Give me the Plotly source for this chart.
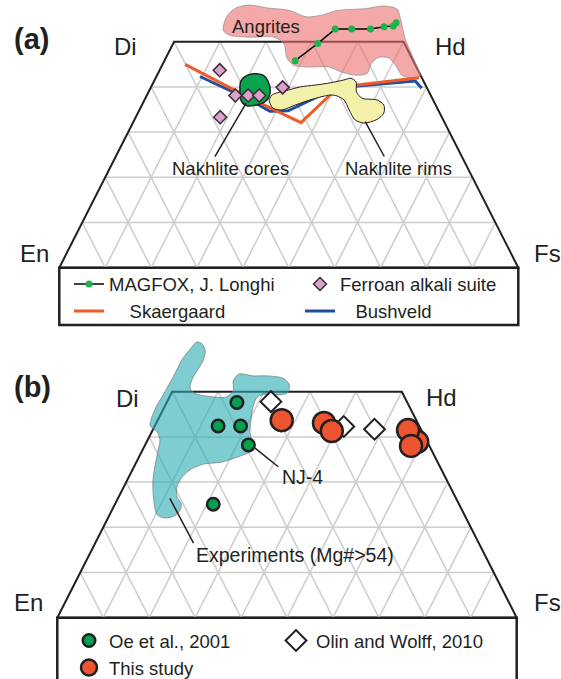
import plotly.graph_objects as go

# ---------------- data (pyroxene compositions, mol%: Wo and Fs; En = 100 - Wo - Fs) -------------
# Panel (a)
MAGFOX_WO = [45.8, 49.6, 52.8, 52.8, 52.8, 53.3, 53.5, 54.2]
MAGFOX_FS = [28.5, 31.5, 33.7, 37.3, 41.4, 44.1, 46.0, 46.3]
FERROAN_WO = [43.7, 38.1, 38.1, 38.1, 33.3, 39.9]
FERROAN_FS = [13.1, 19.3, 22.1, 24.5, 18.4, 28.7]
SKAER_WO = [45.0, 37.5, 32.1, 38.6, 40.4, 42.0]
SKAER_FS = [4.9, 22.8, 36.6, 40.1, 44.7, 57.4]
BUSH_WO = [42.3, 37.1, 34.6, 34.7, 38.6, 40.2, 41.3, 39.7]
BUSH_FS = [9.5, 23.0, 28.6, 32.5, 38.6, 44.8, 56.9, 59.1]
ANGRITE_WO = [52.6, 55.7, 57.5, 58.1, 57.5, 56.9, 55.5, 55.9, 56.9, 57.3, 57.9, 57.2, 54.8, 50.8,
              46.4, 42.4, 42.0, 42.6, 44.6, 46.4, 46.5, 45.1, 43.0, 42.6, 43.4, 44.4, 44.4, 44.8,
              46.4, 49.5, 51.0, 51.0, 51.5]
ANGRITE_FS = [9.4, 8.7, 9.8, 12.5, 16.3, 21.8, 26.0, 29.3, 32.1, 37.9, 41.8, 45.0, 47.0, 49.9,
              53.9, 57.4, 55.6, 53.3, 51.1, 48.6, 46.2, 45.4, 45.6, 43.3, 39.5, 36.6, 31.8, 28.7,
              26.4, 24.2, 21.3, 16.0, 11.2]
CORES_WO = [42.3, 42.9, 42.6, 41.3, 39.1, 37.1, 36.2, 35.8, 36.9, 39.3, 41.3]
CORES_FS = [19.3, 20.8, 23.1, 24.8, 26.4, 26.7, 25.6, 23.0, 21.2, 19.7, 18.9]
RIMS_WO = [36.9, 38.2, 39.1, 40.0, 40.4, 40.9, 41.5, 41.9, 41.1, 38.9, 37.5, 37.1, 36.0, 34.2,
           32.8, 32.0, 32.7, 34.9, 37.1, 38.0, 38.2, 37.3, 36.0, 34.9, 35.3]
RIMS_FS = [27.3, 27.2, 29.6, 32.5, 35.5, 38.6, 41.1, 42.6, 44.1, 45.3, 47.2, 50.7, 52.7, 53.6,
           52.8, 50.4, 48.1, 45.7, 43.5, 41.5, 39.9, 36.6, 33.4, 31.1, 28.9]
CORES_LEADER_WO = [36.4, 24.6]
CORES_LEADER_FS = [22.5, 21.6]
RIMS_LEADER_WO = [32.3, 24.6]
RIMS_LEADER_FS = [50.5, 58.5]

# Panel (b)
OE_WO = [47.6, 42.4, 42.4, 38.2, 25.1]
OE_FS = [15.3, 13.8, 18.7, 22.5, 21.4]
OLIN_WO = [47.8, 42.3, 41.7]
OLIN_FS = [22.6, 41.2, 48.2]
STUDY_WO = [43.7, 43.1, 41.3, 38.9, 41.5, 38.0]
STUDY_FS = [27.0, 36.5, 39.1, 58.9, 55.6, 58.0]
EXPER_WO = [61.0, 60.6, 59.0, 56.8, 54.6, 52.6, 50.8, 49.7, 49.0, 48.8, 50.2, 52.4, 53.9, 53.5,
            53.5, 53.0, 51.7, 49.9, 49.3, 49.5, 48.8, 46.6, 43.7, 40.9, 38.0, 36.7, 35.6, 34.4,
            34.0, 32.9, 31.1, 28.9, 26.7, 25.2, 23.4, 22.3, 22.1, 22.9, 26.0, 30.0, 33.8, 37.1,
            39.3, 41.1, 42.4, 43.7, 46.6, 49.3, 51.3, 53.7, 57.0, 59.4]
EXPER_FS = [-0.1, 1.2, 2.7, 3.3, 3.1, 3.0, 3.5, 4.9, 8.3, 12.3, 13.2, 12.1, 12.6, 15.9, 19.1,
            22.6, 24.6, 25.3, 24.1, 20.9, 19.1, 19.3, 20.3, 21.5, 23.6, 23.6, 21.6, 18.4, 14.9,
            12.7, 11.6, 11.6, 12.7, 14.4, 14.8, 13.8, 12.0, 10.2, 8.0, 5.8, 4.4, 3.4, 2.7, 1.2,
            -1.0, -1.5, -1.8, -1.6, -1.5, -1.4, -1.4, -0.8]
NJ4_LEADER_WO = [37.5, 33.4]
NJ4_LEADER_FS = [24.3, 31.4]
EXP_LEADER_WO = [26.4, 16.5]
EXP_LEADER_FS = [11.3, 21.4]

# Quadrilateral frame and grid
EDGE_WO = [0, 50, 50, 0]
EDGE_FS = [0, 0, 50, 100]
WO_GRID = [10, 20, 30, 40]
FS_GRID = [10, 20, 30, 40, 50, 60, 70, 80, 90]
EN_GRID = [10, 20, 30, 40, 50, 60, 70, 80, 90]

FONT = "Liberation Sans, Arial, Helvetica, sans-serif"
INK = "#231f20"
NB = "\u00a0"


def tern(wo, fs):
    x = [f / 100 + w / 200 for w, f in zip(wo, fs)]
    y = [w / 100 for w in wo]
    return x, y


def closed(a):
    return list(a) + [a[0]]


fig = go.Figure()


def add_frame(xa, ya):
    gx, gy = [], []
    for w in WO_GRID:
        x, y = tern([w, w], [0, 100 - w])
        gx += x + [None]; gy += y + [None]
    for f in FS_GRID:
        wmax = min(50, 100 - f)
        x, y = tern([0, wmax], [f, f])
        gx += x + [None]; gy += y + [None]
    for e in EN_GRID:
        wmax = min(50, 100 - e)
        x, y = tern([0, wmax], [100 - e, 100 - e - wmax])
        gx += x + [None]; gy += y + [None]
    fig.add_trace(go.Scatter(x=gx, y=gy, mode="lines", line=dict(color="#cdcdcd", width=1.5),
                             xaxis=xa, yaxis=ya, showlegend=False, hoverinfo="skip"))
    ox, oy = tern(closed(EDGE_WO), closed(EDGE_FS))
    fig.add_trace(go.Scatter(x=ox, y=oy, mode="lines", line=dict(color=INK, width=2),
                             xaxis=xa, yaxis=ya, showlegend=False, hoverinfo="skip"))


def region(wo, fs, fillcolor, linecolor, lw, xa, ya, spline=True):
    x, y = tern(closed(wo), closed(fs))
    fig.add_trace(go.Scatter(x=x, y=y, mode="lines", fill="toself", fillcolor=fillcolor,
                             line=dict(color=linecolor, width=lw,
                                       shape="spline" if spline else "linear", smoothing=0.8),
                             xaxis=xa, yaxis=ya, showlegend=False, hoverinfo="skip"))


def leader(wo, fs, xa, ya):
    x, y = tern(wo, fs)
    fig.add_trace(go.Scatter(x=x, y=y, mode="lines", line=dict(color=INK, width=1.5),
                             xaxis=xa, yaxis=ya, showlegend=False, hoverinfo="skip"))


# ---------------- panel (a) ----------------
add_frame("x", "y")
region(ANGRITE_WO, ANGRITE_FS, "rgba(236,110,110,0.6)", "rgba(140,140,140,0.7)", 1, "x", "y")
x, y = tern(BUSH_WO, BUSH_FS)
fig.add_trace(go.Scatter(x=x, y=y, mode="lines", name=NB * 3 + "Bushveld",
                         line=dict(color="#1f4e9f", width=3),
                         xaxis="x", yaxis="y", legend="legend", legendrank=4))
x, y = tern(SKAER_WO, SKAER_FS)
fig.add_trace(go.Scatter(x=x, y=y, mode="lines", name=NB * 4 + "Skaergaard",
                         line=dict(color="#f05a28", width=3),
                         xaxis="x", yaxis="y", legend="legend", legendrank=3))
region(RIMS_WO, RIMS_FS, "#f3f1a9", INK, 1, "x", "y")
region(CORES_WO, CORES_FS, "#07a34f", INK, 1.5, "x", "y")
leader(CORES_LEADER_WO, CORES_LEADER_FS, "x", "y")
leader(RIMS_LEADER_WO, RIMS_LEADER_FS, "x", "y")
x, y = tern(FERROAN_WO, FERROAN_FS)
fig.add_trace(go.Scatter(x=x, y=y, mode="markers", name="Ferroan alkali suite",
                         marker=dict(symbol="diamond", size=10, color="#d8a2cd",
                                     line=dict(color="#3b2a36", width=1.5)),
                         xaxis="x", yaxis="y", legend="legend", legendrank=2))
x, y = tern(MAGFOX_WO, MAGFOX_FS)
fig.add_trace(go.Scatter(x=x, y=y, mode="lines+markers", name="MAGFOX, J. Longhi",
                         line=dict(color="black", width=1.5),
                         marker=dict(size=7, color="#1fb14c"),
                         xaxis="x", yaxis="y", legend="legend", legendrank=1))

# ---------------- panel (b) ----------------
add_frame("x2", "y2")
region(EXPER_WO, EXPER_FS, "rgba(40,172,178,0.6)", "rgba(120,120,120,0.7)", 1, "x2", "y2")
leader(NJ4_LEADER_WO, NJ4_LEADER_FS, "x2", "y2")
leader(EXP_LEADER_WO, EXP_LEADER_FS, "x2", "y2")
x, y = tern(OE_WO, OE_FS)
fig.add_trace(go.Scatter(x=x, y=y, mode="markers", name="Oe et al., 2001",
                         marker=dict(size=12.5, color="#05a04f", line=dict(color=INK, width=2.5)),
                         xaxis="x2", yaxis="y2", legend="legend2", legendrank=1))
x, y = tern(OLIN_WO, OLIN_FS)
fig.add_trace(go.Scatter(x=x, y=y, mode="markers", name="Olin and Wolff, 2010",
                         marker=dict(symbol="diamond", size=16, color="white",
                                     line=dict(color=INK, width=2)),
                         xaxis="x2", yaxis="y2", legend="legend2", legendrank=2))
x, y = tern(STUDY_WO, STUDY_FS)
fig.add_trace(go.Scatter(x=x, y=y, mode="markers", name="This study",
                         marker=dict(size=22, color="#ef5430", line=dict(color=INK, width=2.5)),
                         xaxis="x2", yaxis="y2", legend="legend2", legendrank=3))

# legend frames (boxes below each quadrilateral)
fig.add_shape(type="rect", xref="x", yref="y", x0=0, x1=1, y0=-0.127, y1=0,
              line=dict(color=INK, width=2.5), layer="below")
fig.add_shape(type="rect", xref="x2", yref="y2", x0=0, x1=1, y0=-0.3, y1=0,
              line=dict(color=INK, width=2.5), layer="below")

W, H = 561, 679


def P(px, py):
    return px / W, 1 - py / H


LABELS = [
    ("<b>(a)</b>", 31.3, 38.8, 29), ("Di", 125.5, 47, 24), ("Hd", 450.5, 47, 24),
    ("En", 34.5, 253, 24), ("Fs", 547, 253, 24),
    ("<b>(b)</b>", 32.2, 386.7, 29), ("Di", 127.7, 398.5, 24), ("Hd", 441.2, 397, 24),
    ("En", 28, 602.5, 24), ("Fs", 547, 602.5, 24),
    ("Angrites", 266, 26.7, 18.5), ("Nakhlite cores", 230.8, 168.3, 18.5),
    ("Nakhlite rims", 398.7, 168.3, 18.5),
    ("NJ-4", 302, 476.7, 19.5), ("Experiments (Mg#>54)", 294.7, 555, 19.5),
]
annotations = []
for text, px, py, size in LABELS:
    ax, ay = P(px, py)
    annotations.append(dict(text=text, x=ax, y=ay, xref="paper", yref="paper", showarrow=False,
                            xanchor="center", yanchor="middle",
                            font=dict(family=FONT, size=size, color=INK)))

legend_common = dict(orientation="h", xanchor="left", yanchor="top", entrywidthmode="pixels",
                     font=dict(family=FONT, size=18.5, color=INK), bgcolor="rgba(0,0,0,0)",
                     borderwidth=0, traceorder="normal", itemclick=False, itemdoubleclick=False)

fig.update_layout(
    width=W, height=H, autosize=False,
    margin=dict(l=0, r=0, t=0, b=0, pad=0, autoexpand=False),
    paper_bgcolor="white", plot_bgcolor="white",
    showlegend=True,
    xaxis=dict(domain=[0, 1], range=[-0.12919, 1.09303], visible=False, fixedrange=True),
    yaxis=dict(domain=[0.5, 1], range=[-0.15885, 0.59226], visible=False, fixedrange=True),
    xaxis2=dict(domain=[0, 1], range=[-0.12473, 1.09643], visible=False, anchor="y2", fixedrange=True),
    yaxis2=dict(domain=[0, 0.5], range=[-0.13562, 0.61549], visible=False, anchor="x2", fixedrange=True),
    legend=dict(x=P(69, 0)[0], y=P(0, 265.5)[1], entrywidth=186, **legend_common),
    legend2=dict(x=P(69, 0)[0], y=P(0, 622)[1], entrywidth=162, **legend_common),
    annotations=annotations,
)

fig.write_html("out.html", config={"displayModeBar": False},
               post_script="document.body.style.margin='0px';document.body.style.overflow='hidden';")
